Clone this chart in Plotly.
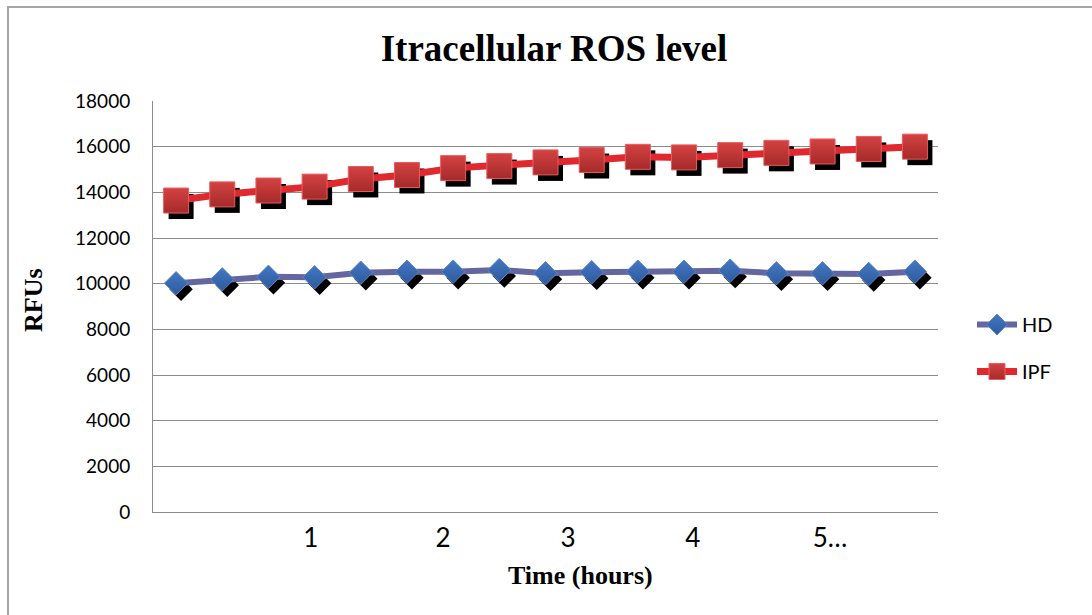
import plotly.graph_objects as go

# Intracellular ROS readings (relative fluorescence units), 17 successive reads
reads = list(range(1, 18))
hd_rfu = [10020, 10190, 10300, 10280, 10480, 10520, 10525, 10600, 10455, 10500,
          10525, 10525, 10570, 10455, 10455, 10425, 10525]
ipf_rfu = [13640, 13910, 14080, 14250, 14585, 14760, 15060, 15150, 15310, 15415,
           15555, 15530, 15630, 15730, 15790, 15900, 16000]

# Hour labels along the time axis and the read positions they sit over
hour_labels = ["1", "2", "3", "4", "5…"]
hour_label_pos = [3.92, 6.78, 9.49, 12.19, 15.16]

W, H = 1092, 615
L, R, T, B = 153, 154, 101, 103
plot_w, plot_h = W - L - R, H - T - B
Y_MAX = 18000

# drop-shadow offset (pixels) converted to axis units
px_per_read = plot_w / len(reads)
px_per_unit = plot_h / Y_MAX
sh_dx = 5 / px_per_read
sh_dy = 6 / px_per_unit


def px_x(px):
    return (px - L) / plot_w


def px_y(py):
    return (H - B - py) / plot_h


fig = go.Figure()

# black marker shadows, drawn first so they sit under the series
fig.add_trace(go.Scatter(
    x=[r + sh_dx for r in reads], y=[v - sh_dy for v in hd_rfu], mode="markers",
    marker=dict(symbol="diamond", size=18, color="black", line=dict(width=0)),
    showlegend=False, hoverinfo="skip"))
fig.add_trace(go.Scatter(
    x=[r + sh_dx for r in reads], y=[v - sh_dy for v in ipf_rfu], mode="markers",
    marker=dict(symbol="square", size=25, color="black", line=dict(width=0)),
    showlegend=False, hoverinfo="skip"))

fig.add_trace(go.Scatter(
    x=reads, y=hd_rfu, name="HD", mode="lines+markers", legendgroup="hd",
    line=dict(color="#6466a0", width=6),
    marker=dict(symbol="diamond", size=18, color="#4478c4",
                gradient=dict(type="vertical", color="#2d5a9c"),
                line=dict(color="#5d86c6", width=1))))
fig.add_trace(go.Scatter(
    x=reads, y=ipf_rfu, name="IPF", mode="lines+markers", legendgroup="ipf",
    line=dict(color="#e0282f", width=7),
    marker=dict(symbol="square", size=25, color="#d44242",
                gradient=dict(type="vertical", color="#a52a2a"),
                line=dict(color="#ee5a5e", width=1))))

axis_grey = "#8c8c8c"
fig.update_layout(
    width=W, height=H,
    margin=dict(l=L, r=R, t=T, b=B),
    paper_bgcolor="white", plot_bgcolor="white",
    font=dict(family="Lato, Noto Sans, sans-serif", color="black", size=18),
    title=dict(text="Itracellular ROS level", x=554 / W, xanchor="center",
               y=1 - 48 / H, yanchor="middle", xref="container", yref="container",
               font=dict(family="Liberation Serif", size=37, weight="bold", color="black")),
    xaxis=dict(range=[0.5, len(reads) + 0.5], tickvals=hour_label_pos, ticktext=hour_labels,
               showgrid=False, zeroline=False, showline=True, linecolor=axis_grey, linewidth=1,
               ticks="", ticklabelstandoff=3, tickfont=dict(size=26)),
    yaxis=dict(range=[0, Y_MAX], dtick=2000, tickformat="d", showgrid=True,
               gridcolor=axis_grey, gridwidth=1,
               zeroline=False, showline=True, linecolor=axis_grey, linewidth=1,
               ticks="", ticklabelstandoff=18, tickfont=dict(size=19)),
    legend=dict(x=px_x(972), y=px_y(305), xanchor="left", yanchor="top",
                font=dict(size=20), tracegroupgap=18, itemwidth=40,
                bgcolor="rgba(0,0,0,0)"),
    showlegend=True,
    shapes=[dict(type="rect", xref="paper", yref="paper",
                 x0=px_x(8), x1=px_x(W + 20), y0=px_y(H + 20), y1=px_y(7),
                 line=dict(color="#a6a6a6", width=2), fillcolor="rgba(0,0,0,0)", layer="below")],
    annotations=[
        dict(text="Time (hours)", xref="paper", yref="paper", x=px_x(580), y=px_y(575),
             showarrow=False, xanchor="center", yanchor="middle",
             font=dict(family="Liberation Serif", size=26, weight="bold", color="black")),
        dict(text="RFUs", xref="paper", yref="paper", x=px_x(33), y=px_y(300),
             showarrow=False, xanchor="center", yanchor="middle", textangle=-90,
             font=dict(family="Liberation Serif", size=26, weight="bold", color="black")),
    ],
)

fig.write_html("out.html")
